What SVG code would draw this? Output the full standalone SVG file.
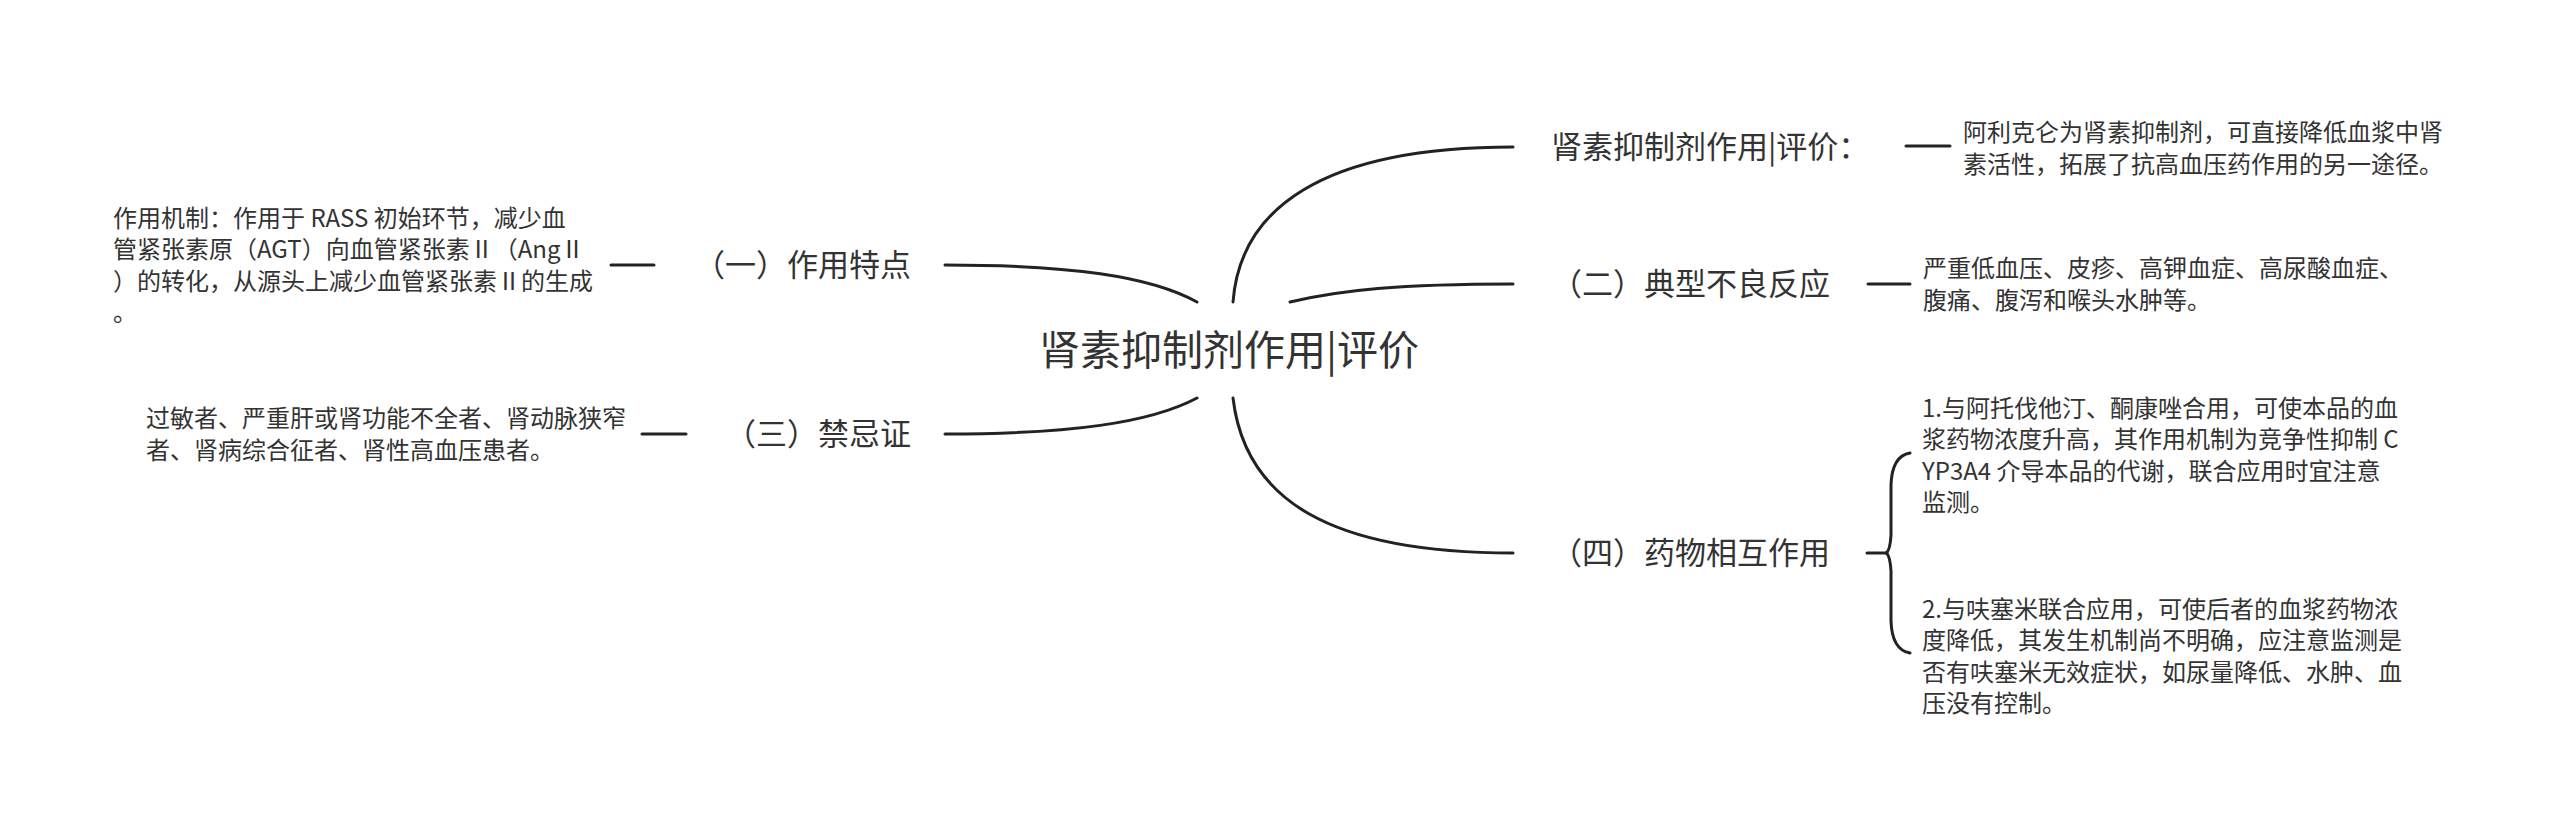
<svg xmlns="http://www.w3.org/2000/svg" width="2560" height="831" viewBox="0 0 2560 831">
<style>
text{font-family:"Noto Sans CJK SC","Noto Sans",sans-serif;fill:#333}
.c{font-size:41px}
.b{font-size:31px}
.l{font-size:24px}
.ln{fill:none;stroke:#222;stroke-width:3;stroke-linecap:round}
</style>
<rect width="2560" height="831" fill="#fff"/>
<g id="connectors">
<path class="ln" d="M945 265 C1070 265 1150 276 1197 302"/>
<path class="ln" d="M945 434 C1070 434 1150 423 1197 398"/>
<path class="ln" d="M1233 302 C1240 210 1320 147 1513 147"/>
<path class="ln" d="M1290 302 C1340 290 1400 284 1513 284"/>
<path class="ln" d="M1233 398 C1245 500 1330 553 1513 553"/>
<path class="ln" d="M611 265 L654 265"/>
<path class="ln" d="M642 434 L686 434"/>
<path class="ln" d="M1906 146 L1950 146"/>
<path class="ln" d="M1868 284 L1910 284"/>
<path class="ln" d="M1867 553 L1887 553"/>
<path class="ln" d="M1910 453 Q1892 456 1891 485 L1891 535 Q1890 551 1886 553 Q1890 555 1891 571 L1891 621 Q1892 650 1910 653"/>
</g>
<g id="central"><text class="c" x="1039" y="365">肾素抑制剂作用|评价</text></g>
<g id="b1"><text class="b" x="1551" y="158">肾素抑制剂作用|评价：</text></g>
<g id="b1-leaf"><text class="l" x="1963" y="141">阿利克仑为肾素抑制剂，可直接降低血浆中肾</text><text class="l" x="1963" y="173">素活性，拓展了抗高血压药作用的另一途径。</text></g>
<g id="b2"><text class="b" x="1551" y="295">（二）典型不良反应</text></g>
<g id="b2-leaf"><text class="l" x="1923" y="277">严重低血压、皮疹、高钾血症、高尿酸血症、</text><text class="l" x="1923" y="309">腹痛、腹泻和喉头水肿等。</text></g>
<g id="b4"><text class="b" x="1551" y="564">（四）药物相互作用</text></g>
<g id="b4-leaf1"><text class="l" x="1922" y="417">1.与阿托伐他汀、酮康唑合用，可使本品的血</text><text class="l" x="1922" y="448">浆药物浓度升高，其作用机制为竞争性抑制 C</text><text class="l" x="1922" y="480">YP3A4 介导本品的代谢，联合应用时宜注意</text><text class="l" x="1922" y="511">监测。</text></g>
<g id="b4-leaf2"><text class="l" x="1922" y="618">2.与呋塞米联合应用，可使后者的血浆药物浓</text><text class="l" x="1922" y="649">度降低，其发生机制尚不明确，应注意监测是</text><text class="l" x="1922" y="681">否有呋塞米无效症状，如尿量降低、水肿、血</text><text class="l" x="1922" y="712">压没有控制。</text></g>
<g id="b3"><text class="b" x="911" y="276" text-anchor="end">（一）作用特点</text></g>
<g id="b3-leaf"><text class="l" x="113" y="227">作用机制：作用于 RASS 初始环节，减少血</text><text class="l" x="113" y="258">管紧张素原（AGT）向血管紧张素Ⅱ（AngⅡ</text><text class="l" x="113" y="290">）的转化，从源头上减少血管紧张素Ⅱ的生成</text><text class="l" x="113" y="321">。</text></g>
<g id="b5"><text class="b" x="911" y="445" text-anchor="end">（三）禁忌证</text></g>
<g id="b5-leaf"><text class="l" x="146" y="427">过敏者、严重肝或肾功能不全者、肾动脉狭窄</text><text class="l" x="146" y="459">者、肾病综合征者、肾性高血压患者。</text></g>
</svg>
